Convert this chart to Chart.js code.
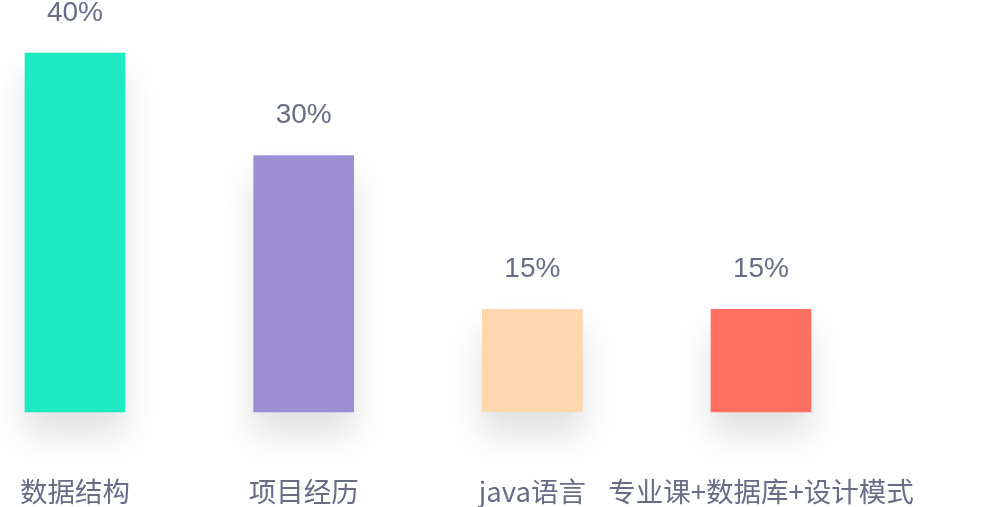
<!DOCTYPE html>
<html>
<head>
<meta charset="utf-8">
<script src="https://cdn.jsdelivr.net/npm/chart.js@4/dist/chart.umd.min.js"></script>
<style>
  html, body { margin: 0; padding: 0; background: #fff; }
  canvas { display: block; }
</style>
</head>
<body>
<canvas id="topics" width="999" height="507"></canvas>
<script>
const categories = ['数据结构', '项目经历', 'java语言', '专业课+数据库+设计模式'];
const shares = [40, 30, 15, 15];
const barColors = ['#1de9c2', '#9d8fd4', '#fdd7ae', '#ff6f61'];

const yMin = 5;
const textColor = '#686d86';

// soft grey shadow under each bar
const barShadow = {
  id: 'barShadow',
  beforeDatasetsDraw(chart) {
    const ctx = chart.ctx;
    ctx.save();
    ctx.shadowColor = 'rgba(0, 0, 0, 0.13)';
    ctx.shadowBlur = 32;
    ctx.shadowOffsetY = 22;
  },
  afterDatasetsDraw(chart) {
    chart.ctx.restore();
  }
};

// percentage text above the bars
const valueLabels = {
  id: 'valueLabels',
  afterDatasetsDraw(chart) {
    const ctx = chart.ctx;
    const meta = chart.getDatasetMeta(0);
    ctx.save();
    ctx.font = '28px "Liberation Sans", Arial, sans-serif';
    ctx.fillStyle = textColor;
    ctx.textAlign = 'center';
    ctx.textBaseline = 'middle';
    meta.data.forEach((bar, i) => {
      ctx.fillText(shares[i] + '%', bar.x, bar.y - 40);
    });
    ctx.restore();
  }
};

new Chart(document.getElementById('topics').getContext('2d'), {
  type: 'bar',
  data: {
    labels: categories,
    datasets: [{
      data: shares,
      backgroundColor: barColors,
      borderWidth: 0,
      barThickness: 100,
      base: yMin,
      clip: false
    }]
  },
  options: {
    responsive: false,
    animation: false,
    devicePixelRatio: 1,
    layout: { padding: { left: 75, right: 238, top: 53, bottom: 0 } },
    plugins: {
      legend: { display: false },
      tooltip: { enabled: false }
    },
    scales: {
      x: {
        offset: false,
        grid: { display: false, drawTicks: false },
        border: { display: false },
        ticks: {
          padding: 63,
          color: textColor,
          maxRotation: 0,
          autoSkip: false,
          font: { family: '"Noto Sans CJK SC", "Noto Sans", sans-serif', size: 27.5 }
        },
        afterFit(scale) {
          // labels sit below the bars; keep the plot area where it is
          scale.height = 95;
          scale.paddingLeft = 0;
          scale.paddingRight = 0;
        }
      },
      y: {
        display: false,
        min: yMin,
        max: 40
      }
    }
  },
  plugins: [barShadow, valueLabels]
});
</script>
</body>
</html>
